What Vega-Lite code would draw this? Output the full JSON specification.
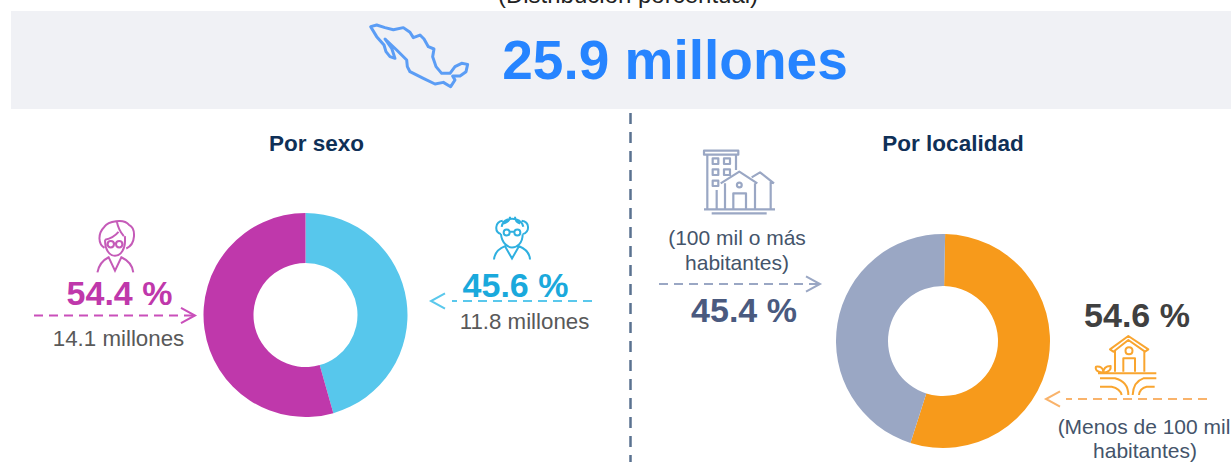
{"$schema":"https://vega.github.io/schema/vega-lite/v6.json","width":1231,"height":462,"padding":0,"autosize":{"type":"none"},"background":"white","view":{"stroke":null},"config":{"text":{"font":"Liberation Sans"}},"resolve":{"scale":{"color":"independent","theta":"independent"}},"layer":[
{"data":{"values":[{"elemento":"banda"}]},"mark":{"type":"rect","x":11,"x2":1231,"y":11,"y2":109,"fill":"#f0f1f5"},"encoding":{}},
{"data":{"values":[{"t":"(Distribución porcentual)"}]},"mark":{"type":"text","x":628,"y":3,"align":"center","baseline":"alphabetic","fontSize":24,"fill":"#222222"},"encoding":{"text":{"field":"t"}}},
{"data":{"values":[{"t":"25.9 millones"}]},"mark":{"type":"text","x":675,"y":79,"align":"center","baseline":"alphabetic","fontSize":55,"fontWeight":"bold","fill":"#2684ff"},"encoding":{"text":{"field":"t"}}},
{"data":{"values":[{"elemento":"mapa"}]},"mark":{"type":"point","x":420,"y":55,"size":14400,"filled":false,"fill":null,"stroke":"#5b9df5","strokeWidth":3,"opacity":1,"strokeJoin":"round","shape":"M-0.822,-0.472L-0.722,-0.5L-0.583,-0.456L-0.444,-0.422L-0.278,-0.456L-0.167,-0.378L-0.111,-0.289L0,-0.333L0.067,-0.267L0.139,-0.139L0.233,-0.1L0.211,0.028L0.267,0.194L0.361,0.306L0.5,0.306L0.583,0.194L0.694,0.139L0.794,0.156L0.767,0.278L0.667,0.35L0.544,0.35L0.583,0.417L0.511,0.528L0.389,0.456L0.25,0.483L0.056,0.389L-0.167,0.278L-0.211,0.194L-0.222,0.083L-0.389,-0.083L-0.583,-0.267L-0.472,-0.111L-0.417,0.056L-0.5,0.028L-0.567,-0.056L-0.6,-0.167L-0.722,-0.306Z"},"encoding":{}},
{"data":{"values":[{"elemento":"divisor"}]},"mark":{"type":"rule","stroke":"#5a7290","strokeWidth":2.5,"strokeDash":[11,8]},"encoding":{"x":{"value":630.5},"y":{"value":113},"y2":{"value":462}}},
{"data":{"values":[{"t":"Por sexo"}]},"mark":{"type":"text","x":316.5,"y":151,"align":"center","baseline":"alphabetic","fontSize":22.5,"fontWeight":"bold","fill":"#0f3057"},"encoding":{"text":{"field":"t"}}},
{"data":{"values":[{"t":"Por localidad"}]},"mark":{"type":"text","x":953,"y":151,"align":"center","baseline":"alphabetic","fontSize":22.5,"fontWeight":"bold","fill":"#0f3057"},"encoding":{"text":{"field":"t"}}},
{"data":{"values":[{"sexo":"Hombres","porcentaje":45.6,"orden":1},{"sexo":"Mujeres","porcentaje":54.4,"orden":2}]},"mark":{"type":"arc","x":305.5,"y":315,"outerRadius":102,"innerRadius":52},"encoding":{"theta":{"field":"porcentaje","type":"quantitative","stack":true,"scale":{"domain":[0,100],"range":[0,6.2832]}},"order":{"field":"orden"},"color":{"field":"sexo","type":"nominal","legend":null,"scale":{"domain":["Hombres","Mujeres"],"range":["#57c7ec","#bf38ab"]}}}},
{"data":{"values":[{"localidad":"Menos de 100 mil","porcentaje":54.6,"orden":1},{"localidad":"100 mil o más","porcentaje":45.4,"orden":2}]},"mark":{"type":"arc","x":943,"y":341,"outerRadius":107,"innerRadius":55},"encoding":{"theta":{"field":"porcentaje","type":"quantitative","stack":true,"scale":{"domain":[0,100],"range":[0.02,6.3032]}},"order":{"field":"orden"},"color":{"field":"localidad","type":"nominal","legend":null,"scale":{"domain":["Menos de 100 mil","100 mil o más"],"range":["#f79a1b","#9aa7c4"]}}}},
{"data":{"values":[{"elemento":"mujer"}]},"mark":{"type":"point","x":115,"y":246,"size":4000,"filled":false,"fill":null,"opacity":1,"stroke":"#c55bb8","strokeWidth":2,"shape":"M-0.333,0.056C-0.533,-0.056,-0.556,-0.389,-0.333,-0.611C-0.222,-0.778,0.278,-0.889,0.444,-0.667C0.667,-0.556,0.667,-0.056,0.356,0.078M0.056,-0.778Q0.111,-0.5,0.278,-0.311M-0.311,-0.2C-0.333,0.111,-0.167,0.311,0,0.311C0.167,0.311,0.356,0.111,0.311,-0.311M-0.311,-0.2Q-0.056,-0.244,0.111,-0.444M-0.233,-0.056Q-0.233,-0.156,-0.133,-0.156Q-0.033,-0.156,-0.033,-0.056Q-0.033,0.044,-0.133,0.044Q-0.233,0.044,-0.233,-0.056ZM0.033,-0.056Q0.033,-0.156,0.133,-0.156Q0.233,-0.156,0.233,-0.056Q0.233,0.044,0.133,0.044Q0.033,0.044,0.033,-0.056ZM-0.033,-0.08L0.033,-0.08M-0.556,0.833C-0.5,0.556,-0.333,0.422,-0.2,0.356L0,0.778L0.2,0.356C0.389,0.444,0.556,0.611,0.578,0.833"},"encoding":{}},
{"data":{"values":[{"elemento":"hombre"}]},"mark":{"type":"point","x":512,"y":237.5,"size":3600,"filled":false,"fill":null,"opacity":1,"stroke":"#2fb0e0","strokeWidth":2,"shape":"M-0.344,-0.356C-0.3,-0.72,0.3,-0.72,0.378,-0.356M-0.311,-0.556C-0.567,-0.522,-0.6,-0.189,-0.367,-0.111M0.322,-0.556C0.6,-0.522,0.6,-0.189,0.356,-0.111M-0.289,-0.467Q-0.067,-0.522,-0.067,-0.689M0.267,-0.467Q0.1,-0.522,0.1,-0.689M-0.278,-0.167Q-0.278,-0.267,-0.178,-0.267Q-0.078,-0.267,-0.078,-0.167Q-0.078,-0.067,-0.178,-0.067Q-0.278,-0.067,-0.278,-0.167ZM0.078,-0.167Q0.078,-0.267,0.178,-0.267Q0.278,-0.267,0.278,-0.167Q0.278,-0.067,0.178,-0.067Q0.078,-0.067,0.078,-0.167ZM-0.078,-0.19L0.078,-0.19M-0.367,-0.111C-0.344,0.2,-0.122,0.333,0,0.333C0.156,0.333,0.356,0.2,0.356,-0.111M-0.6,0.733C-0.567,0.422,-0.344,0.333,-0.233,0.289L0,0.7L0.233,0.289C0.344,0.333,0.578,0.422,0.6,0.733"},"encoding":{}},
{"data":{"values":[{"elemento":"ciudad"}]},"mark":{"type":"point","x":739,"y":182,"size":6400,"filled":false,"fill":null,"opacity":1,"stroke":"#9aa7c4","strokeWidth":2.2,"strokeJoin":"round","shape":"M-0.875,-0.783L-0.017,-0.783L-0.017,-0.683L-0.875,-0.683ZM-0.792,-0.683L-0.792,0.658M-0.075,-0.683L-0.075,-0.3M-0.658,-0.592L-0.517,-0.592L-0.517,-0.45L-0.658,-0.45ZM-0.375,-0.592L-0.225,-0.592L-0.225,-0.45L-0.375,-0.45ZM-0.658,-0.317L-0.517,-0.317L-0.517,-0.175L-0.658,-0.175ZM-0.375,-0.317L-0.225,-0.317L-0.225,-0.175L-0.375,-0.175ZM-0.658,-0.033L-0.517,-0.033L-0.517,0.1L-0.658,0.1ZM-0.558,0.2L-0.558,0.658M-0.458,0.033L0.008,-0.258L0.458,0.033M-0.35,0.033L-0.35,0.658M0.4,0.033L0.4,0.658M-0.142,0.658L-0.142,0.283L0.175,0.283L0.175,0.658M-0.052,0.075Q-0.052,0.015,0.008,0.015Q0.068,0.015,0.068,0.075Q0.068,0.135,0.008,0.135Q-0.052,0.135,-0.052,0.075ZM0.317,-0.117L0.525,-0.242L0.875,0.033M0.792,-0.008L0.792,0.658M-0.875,0.683L0.9,0.683M-0.683,0.783L0.692,0.783"},"encoding":{}},
{"data":{"values":[{"elemento":"campo"}]},"mark":{"type":"point","x":1125,"y":365,"size":4900,"filled":false,"fill":null,"opacity":1,"stroke":"#f9a52f","strokeWidth":2,"strokeJoin":"round","shape":"M-0.429,-0.448L0.095,-0.829L0.667,-0.448L0.571,-0.381L0.095,-0.714L-0.333,-0.381ZM-0.286,-0.4L-0.286,0.19M0.552,-0.4L0.552,0.19M0.014,-0.41Q0.014,-0.51,0.114,-0.51Q0.214,-0.51,0.214,-0.41Q0.214,-0.31,0.114,-0.31Q0.014,-0.31,0.014,-0.41ZM-0.048,0.19L-0.048,-0.19L0.286,-0.19L0.286,0.19M-0.771,0.238L0.895,0.238M-0.714,0.381L-0.286,0.381Q0.095,0.476,0.095,0.857M-0.714,0.619L-0.381,0.619Q-0.143,0.667,-0.095,0.857M0.895,0.381L0.524,0.381Q0.238,0.476,0.219,0.857M0.848,0.619L0.619,0.619Q0.419,0.667,0.4,0.857M-0.619,0.219Q-0.876,0.19,-0.829,0.048Q-0.619,0.029,-0.619,0.219ZM-0.619,0.219Q-0.381,0.19,-0.41,0.029Q-0.619,0.029,-0.619,0.219Z"},"encoding":{}},
{"data":{"values":[{"elemento":"flecha mujeres"}]},"mark":{"type":"rule","stroke":"#c94fba","strokeWidth":2,"strokeDash":[9,6]},"encoding":{"x":{"value":34},"x2":{"value":193},"y":{"value":315.5}}},
{"data":{"values":[{"elemento":"punta mujeres"}]},"mark":{"type":"point","x":195,"y":315.5,"size":784,"filled":false,"fill":null,"opacity":1,"stroke":"#c94fba","strokeWidth":2,"shape":"M-1,-0.55L0,0L-1,0.55"},"encoding":{}},
{"data":{"values":[{"elemento":"flecha hombres"}]},"mark":{"type":"rule","stroke":"#5ac8ec","strokeWidth":2,"strokeDash":[9,6]},"encoding":{"x":{"value":592},"x2":{"value":452},"y":{"value":301}}},
{"data":{"values":[{"elemento":"punta hombres"}]},"mark":{"type":"point","x":431,"y":301,"size":784,"filled":false,"fill":null,"opacity":1,"stroke":"#5ac8ec","strokeWidth":2,"shape":"M1,-0.55L0,0L1,0.55"},"encoding":{}},
{"data":{"values":[{"elemento":"flecha urbana"}]},"mark":{"type":"rule","stroke":"#9aa7c4","strokeWidth":2,"strokeDash":[9,6]},"encoding":{"x":{"value":659},"x2":{"value":818},"y":{"value":284}}},
{"data":{"values":[{"elemento":"punta urbana"}]},"mark":{"type":"point","x":820,"y":284,"size":784,"filled":false,"fill":null,"opacity":1,"stroke":"#9aa7c4","strokeWidth":2,"shape":"M-1,-0.55L0,0L-1,0.55"},"encoding":{}},
{"data":{"values":[{"elemento":"flecha rural"}]},"mark":{"type":"rule","stroke":"#f9b36b","strokeWidth":2,"strokeDash":[9,6]},"encoding":{"x":{"value":1207},"x2":{"value":1066},"y":{"value":399}}},
{"data":{"values":[{"elemento":"punta rural"}]},"mark":{"type":"point","x":1046,"y":399,"size":784,"filled":false,"fill":null,"opacity":1,"stroke":"#f9b36b","strokeWidth":2,"shape":"M1,-0.55L0,0L1,0.55"},"encoding":{}},
{"data":{"values":[{"t":"54.4 %"}]},"mark":{"type":"text","x":119.5,"y":305,"align":"center","baseline":"alphabetic","fontSize":34,"fontWeight":"bold","fill":"#bf38ab"},"encoding":{"text":{"field":"t"}}},
{"data":{"values":[{"t":"14.1 millones"}]},"mark":{"type":"text","x":118.5,"y":346,"align":"center","baseline":"alphabetic","fontSize":22.3,"fill":"#595959"},"encoding":{"text":{"field":"t"}}},
{"data":{"values":[{"t":"45.6 %"}]},"mark":{"type":"text","x":515.5,"y":297,"align":"center","baseline":"alphabetic","fontSize":34,"fontWeight":"bold","fill":"#1aa9dc"},"encoding":{"text":{"field":"t"}}},
{"data":{"values":[{"t":"11.8 millones"}]},"mark":{"type":"text","x":524.5,"y":329,"align":"center","baseline":"alphabetic","fontSize":22.3,"fill":"#595959"},"encoding":{"text":{"field":"t"}}},
{"data":{"values":[{"t":"(100 mil o más"}]},"mark":{"type":"text","x":737,"y":245,"align":"center","baseline":"alphabetic","fontSize":21,"fill":"#44546a"},"encoding":{"text":{"field":"t"}}},
{"data":{"values":[{"t":"habitantes)"}]},"mark":{"type":"text","x":737,"y":270,"align":"center","baseline":"alphabetic","fontSize":21,"fill":"#44546a"},"encoding":{"text":{"field":"t"}}},
{"data":{"values":[{"t":"45.4 %"}]},"mark":{"type":"text","x":744,"y":322,"align":"center","baseline":"alphabetic","fontSize":34,"fontWeight":"bold","fill":"#4a5a7f"},"encoding":{"text":{"field":"t"}}},
{"data":{"values":[{"t":"54.6 %"}]},"mark":{"type":"text","x":1137,"y":327,"align":"center","baseline":"alphabetic","fontSize":34,"fontWeight":"bold","fill":"#404040"},"encoding":{"text":{"field":"t"}}},
{"data":{"values":[{"t":"(Menos de 100 mil"}]},"mark":{"type":"text","x":1144,"y":434,"align":"center","baseline":"alphabetic","fontSize":21,"fill":"#44546a"},"encoding":{"text":{"field":"t"}}},
{"data":{"values":[{"t":"habitantes)"}]},"mark":{"type":"text","x":1145,"y":458,"align":"center","baseline":"alphabetic","fontSize":21,"fill":"#44546a"},"encoding":{"text":{"field":"t"}}}
]}
